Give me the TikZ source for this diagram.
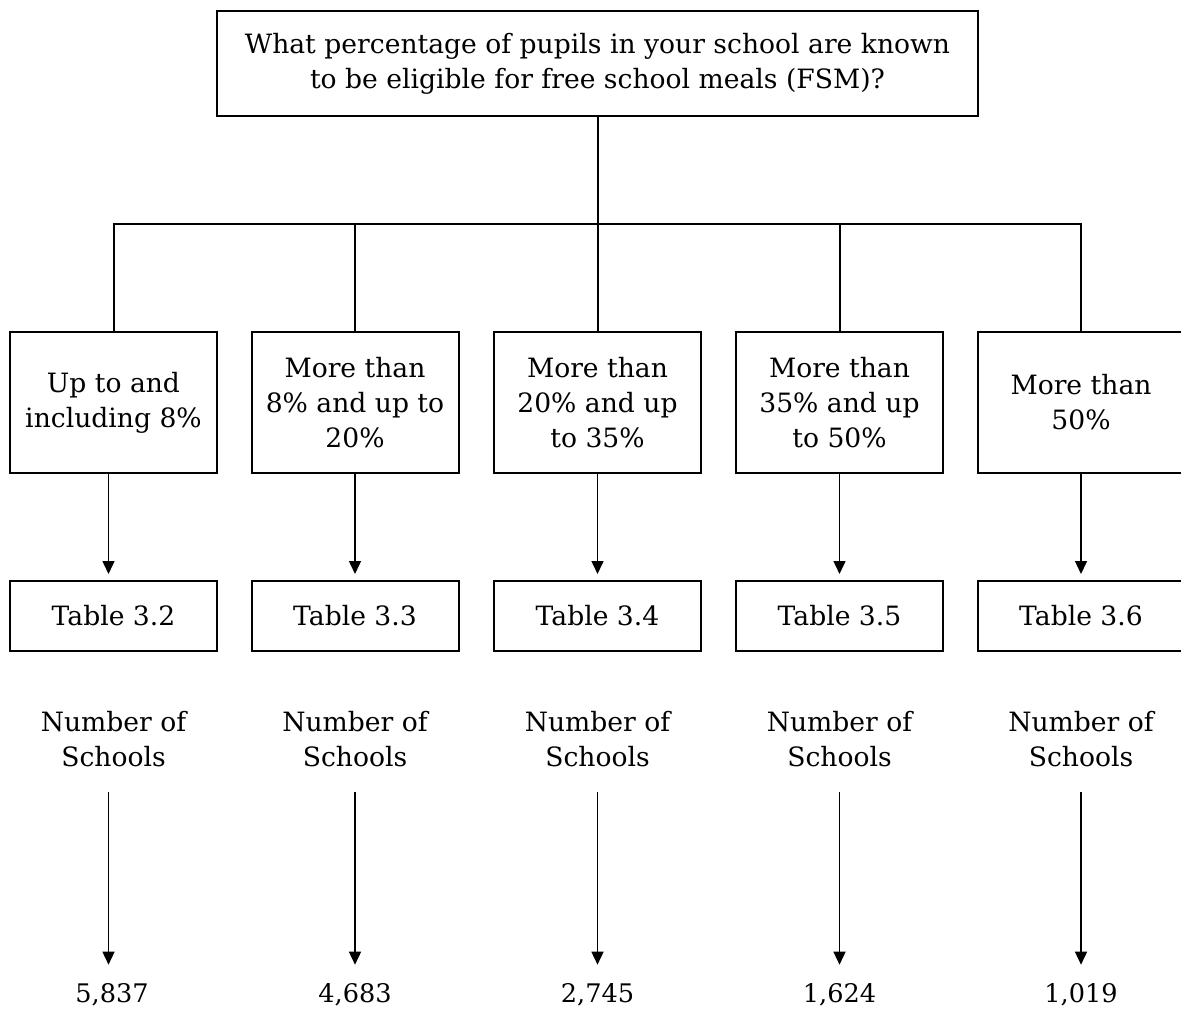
\documentclass[tikz,border=0pt]{standalone}
\usepackage{fontspec}
\setmainfont{DejaVu Serif}
\usepackage{tikz}
\usetikzlibrary{arrows.meta}

\begin{document}
\begin{tikzpicture}[x=0.5pt,y=-0.5pt,
  every node/.style={font=\fontsize{13.3}{17.5}\selectfont,align=center},
  qbox/.style={draw,line width=1pt,minimum width=380.5pt,minimum height=52.5pt,inner sep=0pt},
  bandbox/.style={draw,line width=1pt,minimum width=103.5pt,minimum height=70.5pt,inner sep=0pt},
  tabbox/.style={draw,line width=1pt,minimum width=103.5pt,minimum height=35pt,inner sep=0pt},
  count/.style={font=\fontsize{12.8}{16}\selectfont},
  tree/.style={line width=1pt},
  arr/.style={line width=0.75pt,-{Triangle[width=6pt,length=6.5pt]}}]
  \useasboundingbox (0,0) rectangle (1181,1010);
  \node[qbox] (Q) at (597.5,64) {What percentage of pupils in your school are known\\to be eligible for free school meals (FSM)?};
  \coordinate (J) at (597.5,224);
  \node[bandbox] (B1) at (113.5,402.5) {Up to and\\including 8\%};
  \node[bandbox] (B2) at (355,402.5) {More than\\8\% and up to\\20\%};
  \node[bandbox] (B3) at (597.5,402.5) {More than\\20\% and up\\to 35\%};
  \node[bandbox] (B4) at (839.5,402.5) {More than\\35\% and up\\to 50\%};
  \node[bandbox] (B5) at (1081,402.5) {More than\\50\%};
  \node[tabbox] (T1) at (113.5,616) {Table 3.2};
  \node[tabbox] (T2) at (355,616) {Table 3.3};
  \node[tabbox] (T3) at (597.5,616) {Table 3.4};
  \node[tabbox] (T4) at (839.5,616) {Table 3.5};
  \node[tabbox] (T5) at (1081,616) {Table 3.6};
  \node (N1) at (113.5,739) {Number of\\Schools};
  \node (N2) at (355,739) {Number of\\Schools};
  \node (N3) at (597.5,739) {Number of\\Schools};
  \node (N4) at (839.5,739) {Number of\\Schools};
  \node (N5) at (1081,739) {Number of\\Schools};
  \node[count] (V1) at (112,995) {5,837};
  \node[count] (V2) at (355,995) {4,683};
  \node[count] (V3) at (597.5,995) {2,745};
  \node[count] (V4) at (839.5,995) {1,624};
  \node[count] (V5) at (1081,995) {1,019};
  \draw[tree] (Q.south) -- (J);
  \draw[tree] (B1.north) |- (J) -| (B5.north);
  \draw[tree] (J) -- (B3.north);
  \draw[tree] (B2.north) -- (B2.north |- J);
  \draw[tree] (B4.north) -- (B4.north |- J);
  \draw[arr,shorten >=3pt,transform canvas={xshift=-2.5pt}] (B1.south) -- (T1.north);
  \draw[arr,shorten >=3pt] (B2.south) -- (T2.north);
  \draw[arr,shorten >=3pt] (B3.south) -- (T3.north);
  \draw[arr,shorten >=3pt] (B4.south) -- (T4.north);
  \draw[arr,shorten >=3pt] (B5.south) -- (T5.north);
  \draw[arr,shorten <=9pt,shorten >=6pt,transform canvas={xshift=-2.5pt}] (N1.south) -- (N1.south |- V1.north);
  \draw[arr,shorten <=9pt,shorten >=6pt] (N2.south) -- (V2.north);
  \draw[arr,shorten <=9pt,shorten >=6pt] (N3.south) -- (V3.north);
  \draw[arr,shorten <=9pt,shorten >=6pt] (N4.south) -- (V4.north);
  \draw[arr,shorten <=9pt,shorten >=6pt] (N5.south) -- (V5.north);
\end{tikzpicture}
\end{document}
